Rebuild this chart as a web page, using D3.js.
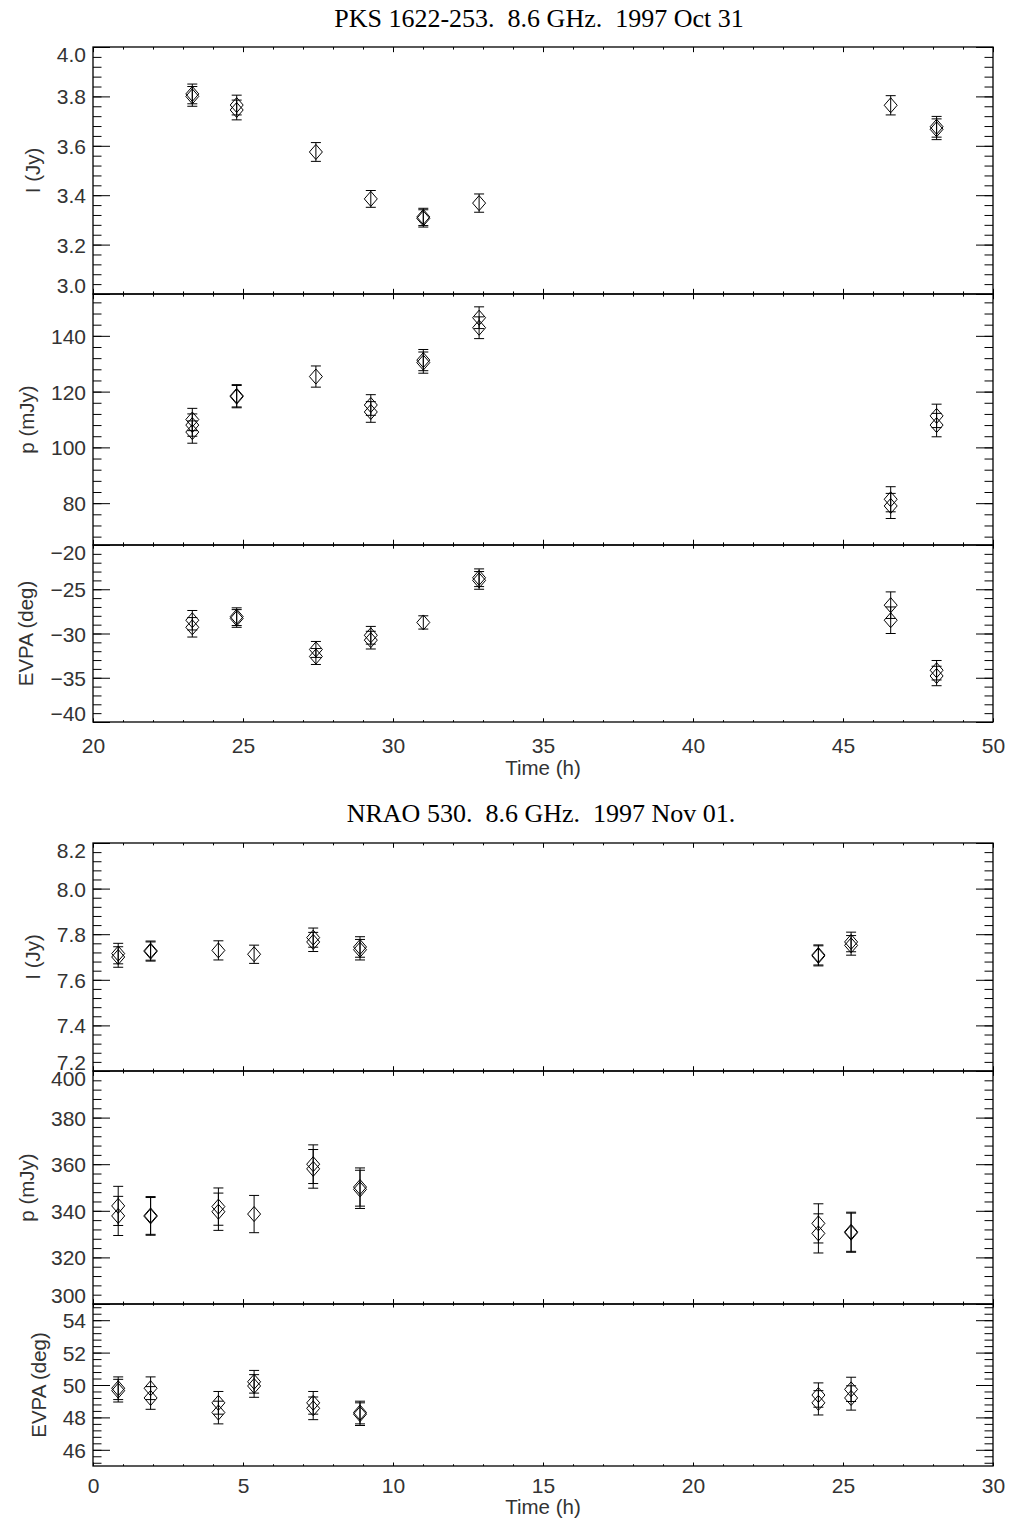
<!DOCTYPE html>
<html>
<head>
<meta charset="utf-8">
<script src="https://cdn.jsdelivr.net/npm/d3@7"></script>
<style>
  html, body { margin: 0; padding: 0; background: #fff; }
  svg text { font-family: "Liberation Sans", Helvetica, Arial, sans-serif; fill: #333; }
  svg .title { font-family: "Liberation Serif", "Times New Roman", serif; fill: #000; font-size: 26px; white-space: pre; }
</style>
</head>
<body>
<svg id="chart" width="1011" height="1519"></svg>
<script>
// ---------- PKS 1622-253, 1997 Oct 31 ----------
const pksTimes = [23.31, 24.79, 27.43, 29.26, 31.01, 32.87, 46.59, 48.12];
const pksI = [[3.810, 3.800], [3.765, 3.745], [3.575], [3.385], [3.312, 3.306], [3.368], [3.764], [3.677, 3.667]];
const pksIErr = [0.040, 0.040, 0.038, 0.034, 0.035, 0.037, 0.039, 0.042];
const pksP = [[110.0, 108.0, 105.5], [118.5, 118.2], [125.4], [115.2, 112.7], [131.3, 130.4], [146.5, 142.9], [81.4, 79.0], [111.3, 108.0]];
const pksPErr = [4.0, 4.0, 3.8, 3.7, 3.8, 3.9, 4.5, 4.2];
const pksEvpa = [[-28.5, -29.3], [-28.1, -28.3], [-31.8, -32.6], [-30.2, -30.75], [-28.75], [-23.7, -24.0], [-26.8, -28.5], [-34.15, -34.8]];
const pksEvpaErr = [1.1, 1.0, 0.9, 1.0, 0.75, 1.0, 1.5, 1.1];

const pksXTicks = [20, 25, 30, 35, 40, 45, 50];
const pksITicks = [3.0, 3.2, 3.4, 3.6, 3.8, 4.0];
const pksPTicks = [80, 100, 120, 140];
const pksEvpaTicks = [-40, -35, -30, -25, -20];

// ---------- NRAO 530, 1997 Nov 01 ----------
const nraoTimes = [0.84, 1.92, 4.18, 5.37, 7.34, 8.90, 24.18, 25.27];
const nraoI = [[7.715, 7.700], [7.728, 7.724], [7.729], [7.712], [7.785, 7.766], [7.744, 7.732], [7.709, 7.705], [7.766, 7.751]];
const nraoIErr = [0.045, 0.042, 0.042, 0.040, 0.042, 0.045, 0.044, 0.043];
const nraoP = [[342.1, 337.8], [338.0, 337.6], [341.8, 339.6], [338.6], [360.0, 358.0], [350.2, 349.2], [334.6, 330.3], [331.0, 330.6]];
const nraoPErr = [8.4, 8.1, 8.0, 8.0, 8.3, 8.2, 8.4, 8.4];
const nraoEvpa = [[49.8, 49.65], [49.8, 49.2], [48.9, 48.3], [50.2, 49.94], [48.9, 48.56], [48.3, 48.2], [49.38, 48.9], [49.73, 49.2]];
const nraoEvpaErr = [0.7, 0.7, 0.7, 0.7, 0.7, 0.7, 0.75, 0.75];

const nraoXTicks = [0, 5, 10, 15, 20, 25, 30];
const nraoITicks = [7.2, 7.4, 7.6, 7.8, 8.0, 8.2];
const nraoPTicks = [300, 320, 340, 360, 380, 400];
const nraoEvpaTicks = [46, 48, 50, 52, 54];

// ---------- layout ----------
const LEFT = 93, RIGHT = 993;
const YTICK = 17;

const figures = [
    {
        title: 'PKS 1622-253.  8.6 GHz.  1997 Oct 31', titleX: 539, titleY: 27,
        xDomain: [20, 50], xTicks: pksXTicks, xStep: 1, xPad: 16, xLabelY: 775,
        times: pksTimes,
        panels: [
            { top: 47, bottom: 294, domain: [3.0, 4.0], ticks: pksITicks, minor: 0.04, fmt: '.1f', label: 'I (Jy)', vals: pksI, errs: pksIErr },
            { top: 294, bottom: 545, domain: [65, 155], ticks: pksPTicks, minor: 4, fmt: 'd', label: 'p (mJy)', vals: pksP, errs: pksPErr },
            { top: 545, bottom: 722, domain: [-40, -20], ticks: pksEvpaTicks, minor: 1, fmt: 'd', label: 'EVPA (deg)', vals: pksEvpa, errs: pksEvpaErr }
        ]
    },
    {
        title: 'NRAO 530.  8.6 GHz.  1997 Nov 01.', titleX: 541, titleY: 822,
        xDomain: [0, 30], xTicks: nraoXTicks, xStep: 1, xPad: 12, xLabelY: 1514,
        times: nraoTimes,
        panels: [
            { top: 843, bottom: 1071, domain: [7.2, 8.2], ticks: nraoITicks, minor: 0.04, fmt: '.1f', label: 'I (Jy)', vals: nraoI, errs: nraoIErr },
            { top: 1071, bottom: 1304, domain: [300, 400], ticks: nraoPTicks, minor: 4, fmt: 'd', label: 'p (mJy)', vals: nraoP, errs: nraoPErr },
            { top: 1304, bottom: 1466, domain: [45, 55], ticks: nraoEvpaTicks, minor: 0.4, fmt: 'd', label: 'EVPA (deg)', vals: nraoEvpa, errs: nraoEvpaErr }
        ]
    }
];

const svg = d3.select('#chart');

function minorTicks(domain, step) {
    const lo = Math.ceil(domain[0] / step - 1e-6), hi = Math.floor(domain[1] / step + 1e-6);
    return d3.range(lo, hi + 1).map(k => +(k * step).toFixed(6));
}

function styleAxis(g) {
    g.select('.domain').remove();
    g.selectAll('line').attr('stroke', '#000').attr('stroke-width', 1);
    g.selectAll('text').attr('font-size', 21).attr('font-family', null).attr('fill', '#333');
}

const diamond = 'M0,-7.5L6.5,0L0,7.5L-6.5,0Z';

figures.forEach(fig => {
    const x = d3.scaleLinear().domain(fig.xDomain).range([LEFT, RIGHT]);
    const xMinor = minorTicks(fig.xDomain, fig.xStep);

    svg.append('text')
        .attr('class', 'title')
        .attr('x', fig.titleX)
        .attr('y', fig.titleY)
        .attr('text-anchor', 'middle')
        .text(fig.title);

    fig.panels.forEach((p, i) => {
        const y = d3.scaleLinear().domain(p.domain).range([p.bottom, p.top]);
        const h = p.bottom - p.top;
        const xt = Math.max(3.5, h * 0.021);
        const g = svg.append('g').attr('class', 'panel');
        const isLast = i === fig.panels.length - 1;

        // y ticks, left (with labels) and right
        g.append('g').attr('transform', `translate(${LEFT},0)`)
            .call(d3.axisLeft(y).tickValues(minorTicks(p.domain, p.minor)).tickSize(-YTICK / 2).tickFormat(''))
            .call(styleAxis);
        const yMajor = g.append('g').attr('transform', `translate(${LEFT},0)`)
            .call(d3.axisLeft(y).tickValues(p.ticks).tickSize(-YTICK).tickPadding(7).tickFormat(d3.format(p.fmt)))
            .call(styleAxis);
        yMajor.selectAll('text')
            .attr('dy', d => d === p.domain[1] ? '0.68em' : d === p.domain[0] ? '-0.06em' : '0.36em');
        g.append('g').attr('transform', `translate(${RIGHT},0)`)
            .call(d3.axisRight(y).tickValues(minorTicks(p.domain, p.minor)).tickSize(-YTICK / 2).tickFormat(''))
            .call(styleAxis);
        g.append('g').attr('transform', `translate(${RIGHT},0)`)
            .call(d3.axisRight(y).tickValues(p.ticks).tickSize(-YTICK).tickFormat(''))
            .call(styleAxis);

        // x ticks on top and bottom of every panel
        g.append('g').attr('transform', `translate(0,${p.top})`)
            .call(d3.axisTop(x).tickValues(xMinor).tickSize(-xt / 2).tickFormat(''))
            .call(styleAxis);
        g.append('g').attr('transform', `translate(0,${p.top})`)
            .call(d3.axisTop(x).tickValues(fig.xTicks).tickSize(-xt).tickFormat(''))
            .call(styleAxis);
        g.append('g').attr('transform', `translate(0,${p.bottom})`)
            .call(d3.axisBottom(x).tickValues(xMinor).tickSize(-xt / 2).tickFormat(''))
            .call(styleAxis);
        g.append('g').attr('transform', `translate(0,${p.bottom})`)
            .call(d3.axisBottom(x).tickValues(fig.xTicks).tickSize(-xt).tickPadding(fig.xPad)
                .tickFormat(isLast ? d3.format('d') : ''))
            .call(styleAxis);

        // frame
        g.append('rect')
            .attr('x', LEFT).attr('y', p.top)
            .attr('width', RIGHT - LEFT).attr('height', h)
            .attr('fill', 'none').attr('stroke', '#000').attr('stroke-width', 1.3);

        // y title, left of the widest tick label
        let minLeft = 0;
        yMajor.selectAll('text').each(function () {
            const b = this.getBBox();
            minLeft = Math.min(minLeft, b.x);
        });
        const ty = (p.top + p.bottom) / 2;
        g.append('text')
            .attr('transform', `translate(${LEFT + minLeft - 17},${ty}) rotate(-90)`)
            .attr('text-anchor', 'middle')
            .attr('font-size', 20.5)
            .text(p.label);

        // data: each epoch holds one or more overlapping measurements
        const pts = [];
        fig.times.forEach((t, k) => p.vals[k].forEach(v => pts.push({ t, v, e: p.errs[k] })));

        const marks = g.append('g').attr('stroke', '#000').attr('fill', 'none').attr('stroke-width', 1);
        marks.selectAll('path.err')
            .data(pts)
            .join('path')
            .attr('class', 'err')
            .attr('d', d => {
                const px = x(d.t), y0 = y(d.v + d.e), y1 = y(d.v - d.e);
                return `M${px - 5},${y0}H${px + 5}M${px},${y0}V${y1}M${px - 5},${y1}H${px + 5}`;
            });
        marks.selectAll('path.pt')
            .data(pts)
            .join('path')
            .attr('class', 'pt')
            .attr('transform', d => `translate(${x(d.t)},${y(d.v)})`)
            .attr('d', diamond);
    });

    svg.append('text')
        .attr('x', (LEFT + RIGHT) / 2)
        .attr('y', fig.xLabelY)
        .attr('text-anchor', 'middle')
        .attr('font-size', 20.5)
        .text('Time (h)');
});
</script>
</body>
</html>
